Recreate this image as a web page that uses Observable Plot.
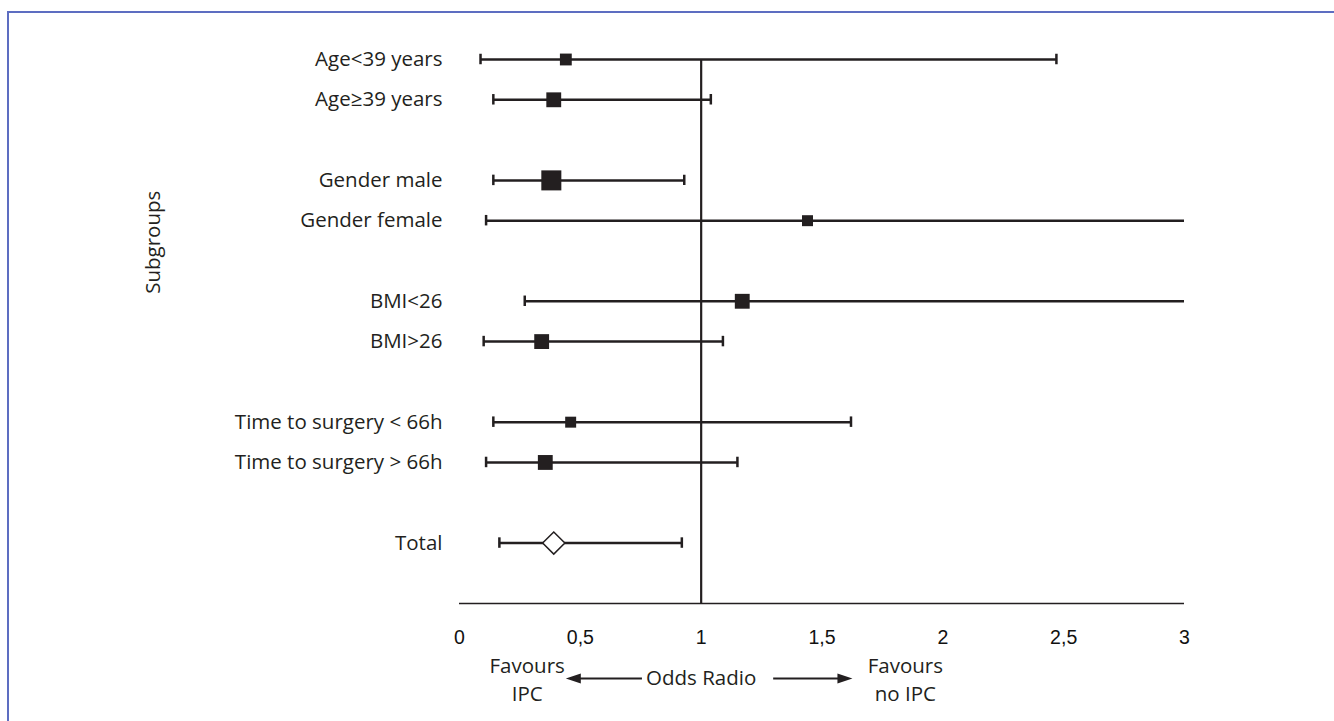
<!DOCTYPE html>
<html>
<head>
<meta charset="utf-8">
<script src="https://cdn.jsdelivr.net/npm/d3@7"></script>
<script src="https://cdn.jsdelivr.net/npm/@observablehq/plot@0.6"></script>
<style>
  html, body { margin: 0; padding: 0; background: #fff; }
  #wrap { position: relative; width: 1334px; height: 721px; overflow: hidden; }
  #frame { position: absolute; left: 7px; top: 11px; right: -10px; bottom: -10px;
           border-top: 2.5px solid #5d6dc1; border-left: 2.5px solid #5d6dc1; }
  #chart { position: absolute; left: 0; top: 0; }
</style>
</head>
<body>
<div id="wrap"><div id="frame"></div><div id="chart"></div></div>
<script>
// ---- data ----
const labels = ["Age<39 years", "Age≥39 years", "Gender male", "Gender female",
                "BMI<26", "BMI>26", "Time to surgery < 66h", "Time to surgery > 66h", "Total"];
const groups = [0, 0, 1, 1, 2, 2, 3, 3, 4];
const oddsRatio = [0.44, 0.39, 0.38, 1.44, 1.17, 0.34, 0.46, 0.355, 0.39];
const ciLow  = [0.087, 0.14, 0.14, 0.11, 0.27, 0.10, 0.14, 0.11, 0.165];
const ciHigh = [2.47, 1.04, 0.93, 3.6, 3.4, 1.09, 1.62, 1.15, 0.92];
const weights = [7, 11, 20, 6, 11, 11, 6, 11, null];
const kinds = ["sub", "sub", "sub", "sub", "sub", "sub", "sub", "sub", "total"];
const xTicks = [0, 0.5, 1, 1.5, 2, 2.5, 3];
const axisLabel = "Subgroups";
const favoursLeft = "Favours\nIPC";
const favoursRight = "Favours\nno IPC";
const centerLabel = "Odds Radio";
const nullEffect = 1;

// ---- table ----
const rows = labels.map((label, i) => ({
  label, or: oddsRatio[i], lo: ciLow[i], hi: ciHigh[i], w: weights[i],
  kind: kinds[i], row: i + groups[i]
}));
const lastRow = d3.max(rows, d => d.row);
const axisRow = lastRow + 1.5;
const annotRow = axisRow + 1.86;

const ink = "#231f20";
const textFont = "'Open Sans', 'Noto Sans', sans-serif";
const fs = 20.5;

const headSymbol = {
  draw(ctx) { ctx.moveTo(0, 0); ctx.lineTo(5, 15); ctx.lineTo(-5, 15); ctx.closePath(); }
};

const chart = Plot.plot({
  width: 1334,
  height: 721,
  marginLeft: 459,
  marginRight: 150,
  marginTop: 18.7,
  marginBottom: 118,
  style: { background: "transparent", color: ink, fontFamily: textFont, overflow: "visible" },
  x: { domain: [0, 3] },
  y: { domain: [-1, axisRow], reverse: true, axis: null },
  r: { type: "sqrt", domain: [0, 20], range: [0, 11.3] },
  marks: [
    Plot.axisX({
      ticks: xTicks, tickSize: 0, tickPadding: 27,
      tickFormat: d => String(d).replace(".", ","),
      fontSize: 19.5, fontFamily: "'Liberation Sans', Arial, sans-serif",
      label: null, fill: "#111"
    }),
    // x axis baseline
    Plot.ruleY([axisRow], { stroke: ink, strokeWidth: 1.6 }),
    // line of no effect
    Plot.ruleX([nullEffect], { y1: 0, y2: axisRow, stroke: ink, strokeWidth: 2.2 }),
    // confidence intervals
    Plot.ruleY(rows, { y: "row", x1: "lo", x2: "hi", stroke: ink, strokeWidth: 2.5, clip: true }),
    Plot.ruleX(rows, { x: "lo", y1: d => d.row - 0.13, y2: d => d.row + 0.13, stroke: ink, strokeWidth: 2.5 }),
    Plot.ruleX(rows, { x: "hi", y1: d => d.row - 0.13, y2: d => d.row + 0.13, stroke: ink, strokeWidth: 2.5, clip: true }),
    // point estimates
    Plot.dot(rows.filter(d => d.kind === "sub"), {
      x: "or", y: "row", r: "w", symbol: "square", fill: ink, stroke: "none"
    }),
    Plot.dot(rows.filter(d => d.kind === "total"), {
      x: "or", y: "row", r: 10, symbol: "diamond2", fill: "white", stroke: ink, strokeWidth: 1.5
    }),
    // row labels
    Plot.text(rows, {
      y: "row", text: "label", frameAnchor: "left", textAnchor: "end", dx: -17,
      fontSize: fs, fill: ink
    }),
    // y title
    Plot.text([axisLabel], {
      frameAnchor: "top-left", dx: -306, dy: 223, rotate: -90,
      textAnchor: "middle", lineAnchor: "middle",
      fontSize: fs, fill: ink
    }),
    // bottom annotation
    Plot.text([favoursLeft], { x: 0.28, y: annotRow, fontSize: fs, lineHeight: 1.36, fill: ink }),
    Plot.text([favoursRight], { x: 1.845, y: annotRow, fontSize: fs, lineHeight: 1.36, fill: ink }),
    Plot.text([centerLabel], { x: nullEffect, y: annotRow, fontSize: fs, fill: ink }),
    Plot.ruleY([annotRow], { x1: 0.757, x2: 0.46, stroke: ink, strokeWidth: 2 }),
    Plot.ruleY([annotRow], { x1: 1.30, x2: 1.60, stroke: ink, strokeWidth: 2 }),
    Plot.dot([0.44], { x: d => d, y: annotRow, symbol: headSymbol, r: 5, rotate: -90, fill: ink, stroke: "none" }),
    Plot.dot([1.626], { x: d => d, y: annotRow, symbol: headSymbol, r: 5, rotate: 90, fill: ink, stroke: "none" })
  ]
});
document.getElementById("chart").appendChild(chart);
</script>
</body>
</html>
